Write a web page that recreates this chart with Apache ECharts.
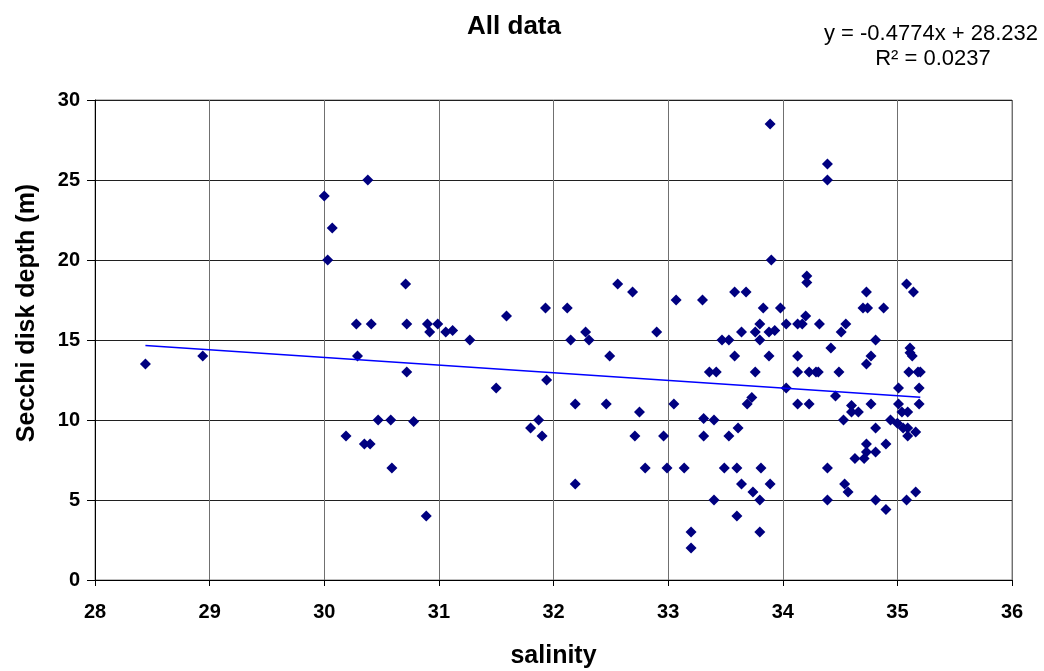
<!DOCTYPE html>
<html>
<head>
<meta charset="utf-8">
<title>All data</title>
<script src="https://cdn.jsdelivr.net/npm/echarts@6/dist/echarts.min.js"></script>
<style>
  html, body { margin: 0; padding: 0; background: #fff; }
  #main { width: 1044px; height: 671px; }
</style>
</head>
<body>
<div id="main"></div>
<script>
// salinity / secchi depth pairs
var salinity = [
  28.44, 28.94, 30.00, 30.07, 30.03, 30.19, 30.38, 30.71, 30.28, 30.41,
  30.72, 30.90, 30.92, 30.99, 31.06, 31.12, 31.27, 31.59, 31.93, 32.12,
  32.15, 30.29, 30.72, 31.50, 31.94, 32.19, 30.47, 30.58, 30.78, 30.35,
  30.40, 31.80, 31.87, 31.90, 30.59, 32.19, 30.89,
  33.89, 33.90, 32.56, 32.69, 33.07, 33.30, 33.58, 33.68, 33.83, 33.98,
  32.28, 32.31, 32.90, 33.47, 33.53, 33.64, 33.76, 33.80, 33.88, 33.93,
  33.80, 34.03, 34.13,
  32.49, 33.58, 33.88, 34.13, 33.36, 33.42, 33.76, 34.13, 34.03, 32.46,
  32.75, 33.05, 33.69, 33.73, 34.13, 33.31, 33.40, 33.61, 32.71, 32.96,
  33.31, 33.53, 32.80, 32.99, 33.14, 33.49, 33.60, 33.81, 33.64, 33.74,
  33.89, 33.40, 33.80, 33.60, 33.20, 33.80, 33.20,
  34.39, 34.39, 34.21, 34.21, 35.08, 35.14, 34.73, 34.70, 34.74, 34.88,
  34.17, 34.20, 34.32, 34.55, 34.51, 34.81, 35.11, 35.11, 35.13, 34.42,
  34.77, 34.73, 34.23, 34.29, 34.31, 34.49, 35.10, 35.18, 35.20, 35.01,
  35.19, 34.46, 34.23, 34.77, 35.01, 35.19, 34.60, 34.60, 34.66, 35.04,
  35.09, 34.53, 34.94, 35.00, 35.05, 35.09, 34.81, 35.09, 35.16, 34.73,
  34.90, 34.73, 34.81, 34.63, 34.71, 34.39, 34.54, 34.57, 34.39, 34.81,
  34.90, 35.08, 35.16
];
var depth = [
  13.5, 14, 24, 22, 20, 9, 25, 18.5, 16, 16,
  16, 16, 15.5, 16, 15.5, 15.6, 15, 16.5, 17, 17,
  15, 14, 13, 12, 12.5, 11, 10, 10, 9.9, 8.5,
  8.5, 9.5, 10, 9, 7, 6, 4,
  28.5, 20, 18.5, 18, 17.5, 17.5, 18, 18, 17, 17,
  15.5, 15, 15.5, 15, 15, 15.5, 15.5, 16, 15.5, 15.6,
  15, 16, 16,
  14, 14, 14, 14, 13, 13, 13, 13, 12, 11,
  10.5, 11, 11, 11.4, 11, 10.1, 10, 9.5, 9, 9,
  9, 9, 7, 7, 7, 7, 7, 7, 6, 5.5,
  6, 5, 5, 4, 3, 3, 2,
  26, 25, 19, 18.6, 18.5, 18, 18, 17, 17, 17,
  16, 16.5, 16, 16, 15.5, 15, 14.5, 14.2, 14, 14.5,
  14, 13.5, 13, 13, 13, 13, 13, 13, 13, 12,
  12, 11.5, 11, 11, 11, 11, 10.9, 10.5, 10.5, 10.5,
  10.5, 10, 10, 9.8, 9.5, 9.5, 9.5, 9, 9.25, 8.5,
  8.5, 8, 8, 7.6, 7.6, 7, 6, 5.5, 5, 5,
  4.4, 5, 5.5
];

// linear trendline from the chart label
var slope = -0.4774;
var intercept = 28.232;

var xTicks = { min: 28, max: 36, interval: 1 };
var yTicks = { min: 0, max: 30, interval: 5 };

var points = salinity.map(function (s, i) { return [s, depth[i]]; });
var xLo = Math.min.apply(null, salinity);
var xHi = Math.max.apply(null, salinity);
var trend = [[xLo, slope * xLo + intercept], [xHi, slope * xHi + intercept]];

var font = 'Liberation Sans, Arial, sans-serif';
var chart = echarts.init(document.getElementById('main'));

chart.setOption({
  animation: false,
  backgroundColor: '#fff',
  grid: { left: 95, right: 32, top: 100, bottom: 91, show: true, borderColor: '#808080', borderWidth: 1,
          containLabel: false, outerBoundsMode: 'none' },
  xAxis: {
    type: 'value',
    min: xTicks.min, max: xTicks.max, interval: xTicks.interval,
    axisLine: { onZero: false, lineStyle: { color: '#000', width: 1 } },
    axisTick: { show: true, length: 6, lineStyle: { color: '#000' } },
    axisLabel: { margin: 22, color: '#000', fontFamily: font, fontWeight: 'bold', fontSize: 20 },
    splitLine: { show: true, lineStyle: { color: '#707070', width: 1 } },
    name: 'salinity', nameLocation: 'middle', nameGap: 64,
    nameTextStyle: { color: '#000', fontFamily: font, fontWeight: 'bold', fontSize: 25 }
  },
  yAxis: {
    type: 'value',
    min: yTicks.min, max: yTicks.max, interval: yTicks.interval,
    axisLine: { show: true, onZero: false, lineStyle: { color: '#000', width: 1 } },
    axisTick: { show: true, length: 8, lineStyle: { color: '#000' } },
    axisLabel: { margin: 15, color: '#000', fontFamily: font, fontWeight: 'bold', fontSize: 20 },
    splitLine: { show: true, lineStyle: { color: '#202020', width: 1 } }
  },
  graphic: [
    {
      type: 'text', x: 514, y: 27,
      style: { text: 'All data', fontFamily: font, fontWeight: 'bold', fontSize: 26, fill: '#000',
               textAlign: 'center', textVerticalAlign: 'middle' }
    },
    {
      type: 'text', x: 1038, y: 34,
      style: { text: 'y = -0.4774x + 28.232', fontFamily: font, fontSize: 22, fill: '#000',
               textAlign: 'right', textVerticalAlign: 'middle' }
    },
    {
      type: 'text', x: 933, y: 59,
      style: { text: 'R\u00B2 = 0.0237', fontFamily: font, fontSize: 22, fill: '#000',
               textAlign: 'center', textVerticalAlign: 'middle' }
    },
    {
      type: 'text', x: 27, y: 313, rotation: Math.PI / 2,
      style: { text: 'Secchi disk depth (m)', fontFamily: font, fontWeight: 'bold', fontSize: 25, fill: '#000',
               textAlign: 'center', textVerticalAlign: 'middle' }
    }
  ],
  series: [
    {
      type: 'scatter',
      data: points,
      symbol: 'diamond',
      symbolSize: 11,
      itemStyle: { color: '#000080', opacity: 1 },
      z: 3
    },
    {
      type: 'line',
      data: trend,
      showSymbol: false,
      symbol: 'none',
      lineStyle: { color: '#0000FF', width: 1.5 },
      z: 4
    }
  ]
});
</script>
</body>
</html>
